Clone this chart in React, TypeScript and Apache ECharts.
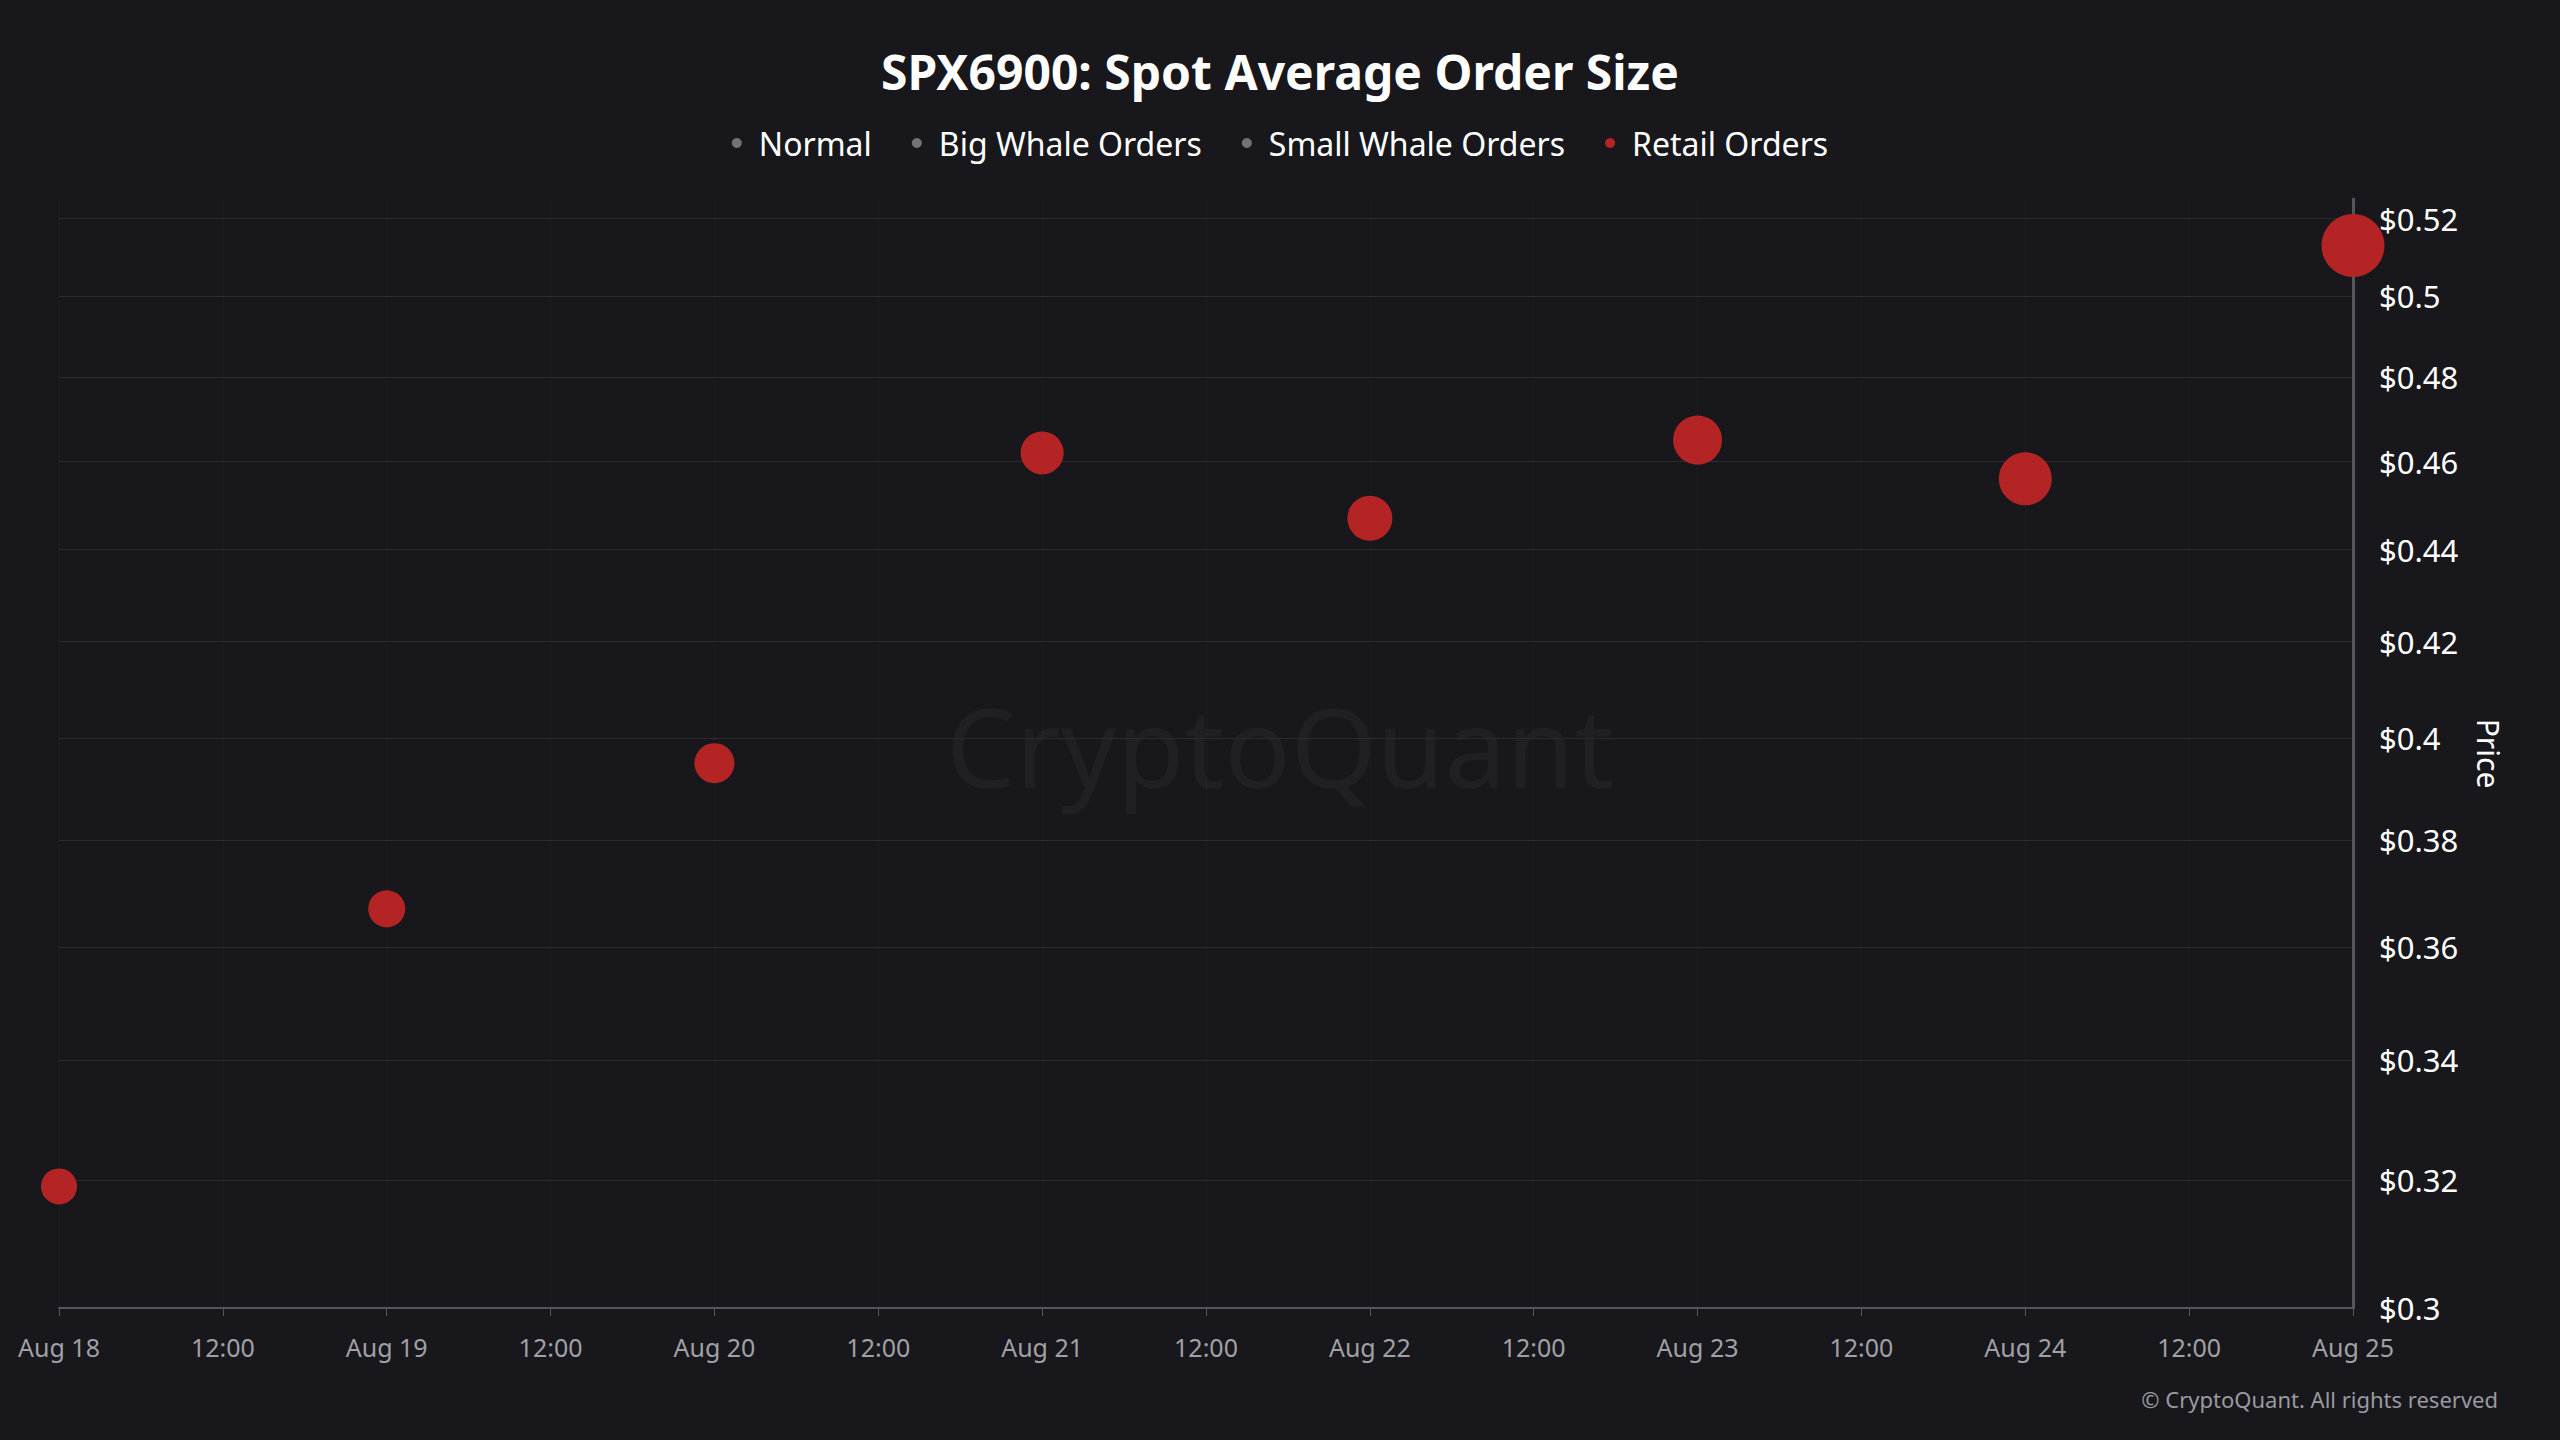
import React, { useEffect, useRef } from 'react';
import * as echarts from 'echarts';

const DAY = 24 * 3600 * 1000;
const START = Date.UTC(2025, 7, 18);

// one retail point per day, Aug 18 .. Aug 25
const dayOffsets = [0, 1, 2, 3, 4, 5, 6, 7];
const retailPrice = [0.319, 0.367, 0.395, 0.462, 0.447, 0.465, 0.456, 0.513];
const retailSize = [36, 37, 40, 43, 45, 49, 53, 63];
const priceTicks = [0.3, 0.32, 0.34, 0.36, 0.38, 0.4, 0.42, 0.44, 0.46, 0.48, 0.5, 0.52];
const legendNames = ['Normal', 'Big Whale Orders', 'Small Whale Orders', 'Retail Orders'];
const legendColors = ['#8a8a8f', '#8a8a8f', '#8a8a8f', '#b52424'];

const MONTHS = ['Jan', 'Feb', 'Mar', 'Apr', 'May', 'Jun', 'Jul', 'Aug', 'Sep', 'Oct', 'Nov', 'Dec'];

const App: React.FC = () => {
  const chartRef = useRef<HTMLDivElement>(null);

  useEffect(() => {
    document.body.style.margin = '0';
    if (!chartRef.current) return;
    const chart = echarts.init(chartRef.current, null, { renderer: 'svg' });
    const font = '"Noto Sans", "Open Sans", sans-serif';

    const retailData = dayOffsets.map((d, i) => [START + d * DAY, Math.log(retailPrice[i]), retailSize[i]]);

    const option = {
      animation: false,
      backgroundColor: '#17171c',
      textStyle: { fontFamily: font },
      title: {
        text: 'SPX6900: Spot Average Order Size',
        left: 'center',
        top: 42,
        textStyle: { color: '#ffffff', fontSize: 48, fontWeight: 'bold', fontFamily: font },
      },
      legend: {
        top: 122,
        left: 'center',
        icon: 'circle',
        itemWidth: 10,
        itemHeight: 10,
        itemGap: 40,
        data: legendNames,
        textStyle: { color: '#ffffff', fontSize: 32, fontFamily: font, padding: [0, 0, 0, 12] },
      },
      graphic: [
        {
          type: 'text',
          left: 'center',
          top: 690,
          style: { text: 'CryptoQuant', fill: 'rgba(255,255,255,0.035)', fontSize: 110, fontFamily: font },
        },
        {
          type: 'text',
          right: 62,
          bottom: 30,
          style: { text: '© CryptoQuant. All rights reserved', fill: '#9a9aa0', fontSize: 22, fontFamily: font },
        },
      ],
      grid: { left: 59, right: 207, top: 199, bottom: 132 },
      xAxis: {
        type: 'value',
        min: START,
        max: START + 7 * DAY,
        interval: DAY / 2,
        axisLine: { show: true, lineStyle: { color: '#55555c', width: 2 } },
        axisTick: { show: true, length: 8, lineStyle: { color: '#55555c' } },
        splitLine: { show: true, lineStyle: { color: 'rgba(255,255,255,0.025)' } },
        axisLabel: {
          color: '#a0a0a6',
          fontSize: 25,
          margin: 26,
          showMinLabel: true,
          showMaxLabel: true,
          formatter: (v: number) => {
            const d = new Date(v);
            return d.getUTCHours() === 12 ? '12:00' : `${MONTHS[d.getUTCMonth()]} ${d.getUTCDate()}`;
          },
        },
      },
      yAxis: {
        type: 'value',
        position: 'right',
        min: Math.log(0.3),
        max: Math.log(0.5252),
        name: 'Price',
        nameLocation: 'middle',
        nameGap: 120,
        nameRotate: -90,
        nameTextStyle: { color: '#ffffff', fontSize: 30 },
        axisLine: { show: true, lineStyle: { color: '#55555c', width: 3 } },
        axisTick: { show: false, customValues: priceTicks.map(Math.log) },
        splitLine: { show: true, lineStyle: { color: '#2a2a30', width: 1 } },
        axisLabel: {
          color: '#ffffff',
          fontSize: 31,
          margin: 26,
          customValues: priceTicks.map(Math.log),
          formatter: (v: number) => '$' + parseFloat(Math.exp(v).toFixed(2)),
        },
      },
      series: [
        ...legendNames.slice(0, 3).map((n, i) => ({
          name: n,
          type: 'scatter',
          data: [],
          itemStyle: { color: legendColors[i] },
        })),
        {
          name: 'Retail Orders',
          type: 'scatter',
          data: retailData,
          symbolSize: (d: number[]) => d[2],
          itemStyle: { color: '#b52424', opacity: 1 },
        },
      ],
    };

    chart.setOption(option);
    return () => chart.dispose();
  }, []);

  return <div ref={chartRef} style={{ width: 2560, height: 1440 }} />;
};

export default App;
